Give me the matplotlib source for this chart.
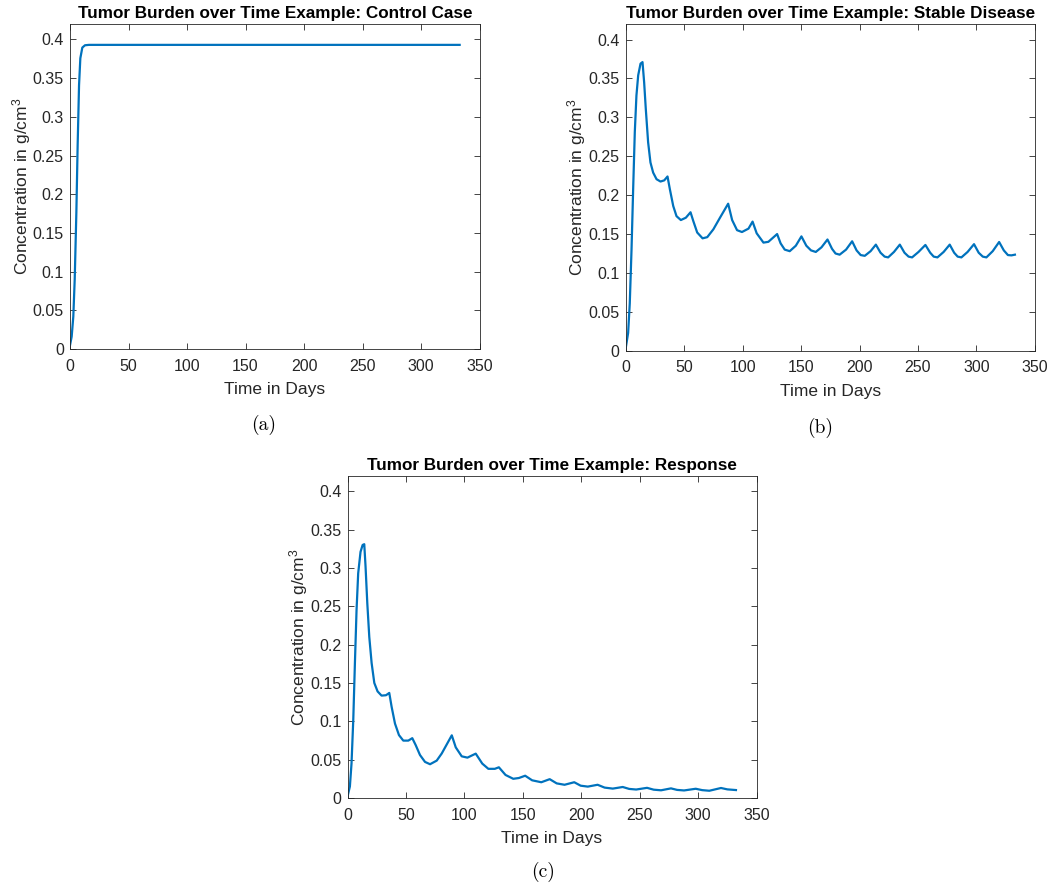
import matplotlib
matplotlib.use('Agg')
import matplotlib.pyplot as plt
from matplotlib.ticker import MultipleLocator, FuncFormatter

plt.rcParams['font.family'] = ['Liberation Sans', 'DejaVu Sans']
plt.rcParams['mathtext.fontset'] = 'custom'
plt.rcParams['mathtext.rm'] = 'Liberation Sans'
plt.rcParams['mathtext.it'] = 'Liberation Sans:italic'

# values
t_control = [0, 1.4, 2.8, 4, 5.4, 6.5, 7.7, 8.8, 10.5, 12.8, 16.2, 20, 333]
y_control = [0.005, 0.016, 0.042, 0.090, 0.176, 0.263, 0.341, 0.3757, 0.3895, 0.3925,
             0.393, 0.393, 0.393]

t_stable = [0, 2, 3.4, 4.9, 6.3, 7.7, 9.1, 10.6, 12.6, 14.3, 15.7, 17.1, 19.1, 21.1, 23.4,
            26.3, 29.7, 32.9, 35.7, 37.7, 40.6, 43.4, 47.1, 51.4, 55.4, 57.7, 61.1, 65.7,
            69.7, 74.9, 80.6, 87.6, 91, 95.2, 99.4, 105, 108.5, 112, 117.8, 122, 129.5,
            132.5, 136, 140.3, 145.5, 150.3, 154.5, 158.5, 162.6, 167.5, 172.6, 176.5,
            179.5, 183, 188.5, 193.7, 197.5, 201, 204.5, 209.5, 214, 218, 221.5, 224.5,
            229.5, 234.5, 238.5, 242, 245, 250.5, 256.4, 260.5, 263.5, 266.7, 272, 277.2,
            281, 284, 287.2, 292.5, 298, 302, 305.5, 308.6, 314, 319.5, 323.5, 327, 330, 333]
y_stable = [0.004, 0.023, 0.061, 0.130, 0.208, 0.281, 0.328, 0.354, 0.369, 0.371, 0.345,
            0.311, 0.268, 0.242, 0.229, 0.2205, 0.2175, 0.219, 0.224, 0.2077, 0.186, 0.173,
            0.168, 0.171, 0.178, 0.167, 0.152, 0.1445, 0.146, 0.156, 0.171, 0.189, 0.168,
            0.155, 0.1526, 0.157, 0.166, 0.151, 0.139, 0.140, 0.150, 0.138, 0.130, 0.128,
            0.135, 0.147, 0.135, 0.129, 0.127, 0.133, 0.143, 0.131, 0.125, 0.1235, 0.130,
            0.1407, 0.129, 0.123, 0.122, 0.128, 0.1364, 0.126, 0.121, 0.120, 0.127, 0.1364,
            0.126, 0.121, 0.120, 0.127, 0.136, 0.126, 0.121, 0.120, 0.127, 0.1364, 0.126,
            0.121, 0.120, 0.127, 0.137, 0.126, 0.121, 0.120, 0.128, 0.1398, 0.129, 0.123,
            0.1226, 0.1235]

t_response = [0, 2, 3.4, 4.9, 6.3, 7.7, 9.1, 11.1, 12.9, 14.3, 15.4, 16.9, 18.6, 20.6,
              22.9, 25.7, 29.1, 32.9, 35.7, 37.7, 40.6, 44, 47.7, 52, 55.4, 58.3, 62, 66.3,
              70.6, 76.3, 80.6, 89.2, 92.6, 97.7, 102.6, 106.8, 109.7, 115.3, 120.5, 126,
              129.5, 135.2, 141.8, 146.6, 152, 158, 165.8, 173, 179, 185.7, 194, 199.5,
              205.6, 214, 220, 227, 235.5, 241, 247, 256.3, 262, 268.3, 276.8, 282, 288,
              298, 303.5, 309.6, 319.6, 325, 332.4]
y_response = [0.002, 0.015, 0.045, 0.102, 0.176, 0.245, 0.293, 0.321, 0.330, 0.331, 0.302,
              0.254, 0.210, 0.176, 0.150, 0.139, 0.1335, 0.134, 0.137, 0.119, 0.097, 0.082,
              0.0748, 0.0748, 0.078, 0.069, 0.056, 0.047, 0.044, 0.0487, 0.058, 0.0817,
              0.066, 0.0543, 0.0526, 0.0557, 0.0578, 0.0448, 0.038, 0.038, 0.040, 0.030,
              0.025, 0.026, 0.029, 0.023, 0.0205, 0.0245, 0.019, 0.0172, 0.0205, 0.016,
              0.0148, 0.0172, 0.0135, 0.0122, 0.0143, 0.0118, 0.011, 0.0132, 0.0108, 0.010,
              0.0125, 0.0105, 0.0098, 0.012, 0.0102, 0.0094, 0.013, 0.0112, 0.0103]

titles = ['Tumor Burden over Time Example: Control Case',
          'Tumor Burden over Time Example: Stable Disease',
          'Tumor Burden over Time Example: Response']
captions = ['(a)', '(b)', '(c)']

axis_grey = '#262626'
line_blue = '#0072BD'

fig = plt.figure(figsize=(10.5, 8.88), dpi=100)

positions = [[0.0667, 0.607, 0.390, 0.366],
             [0.596, 0.605, 0.3895, 0.368],
             [0.331, 0.1014, 0.3895, 0.3626]]
caption_xy = [(0.251, 0.521), (0.781, 0.518), (0.517, 0.018)]

series = [(t_control, y_control), (t_stable, y_stable), (t_response, y_response)]

for i, (t, y) in enumerate(series):
    ax = fig.add_axes(positions[i])
    ax.plot(t, y, color=line_blue, lw=1.6, solid_joinstyle='round')
    ax.set_xlim(0, 350)
    ax.set_ylim(0, 0.42)
    ax.xaxis.set_major_locator(MultipleLocator(50))
    ax.yaxis.set_major_locator(MultipleLocator(0.05))
    ax.yaxis.set_major_formatter(FuncFormatter(lambda v, p: '%g' % round(v, 2)))
    ax.tick_params(direction='in', top=True, right=True, length=4, width=0.6,
                   colors=axis_grey, labelsize=11.5)
    ax.tick_params(axis='x', pad=7)
    ax.tick_params(axis='y', pad=4.5)
    for s in ax.spines.values():
        s.set_color(axis_grey)
        s.set_linewidth(0.6)
    ax.set_title(titles[i], fontsize=12.3, fontweight='bold', pad=4)
    ax.set_xlabel('Time in Days', fontsize=12.5, color=axis_grey, labelpad=6)
    ax.set_ylabel(r'Concentration in g/cm$^{3}$', fontsize=12.5, color=axis_grey, labelpad=0)
    fig.text(caption_xy[i][0], caption_xy[i][1], captions[i], family='cmr10',
             fontsize=14, ha='center', va='center')

fig.savefig('out.png', dpi=100)
